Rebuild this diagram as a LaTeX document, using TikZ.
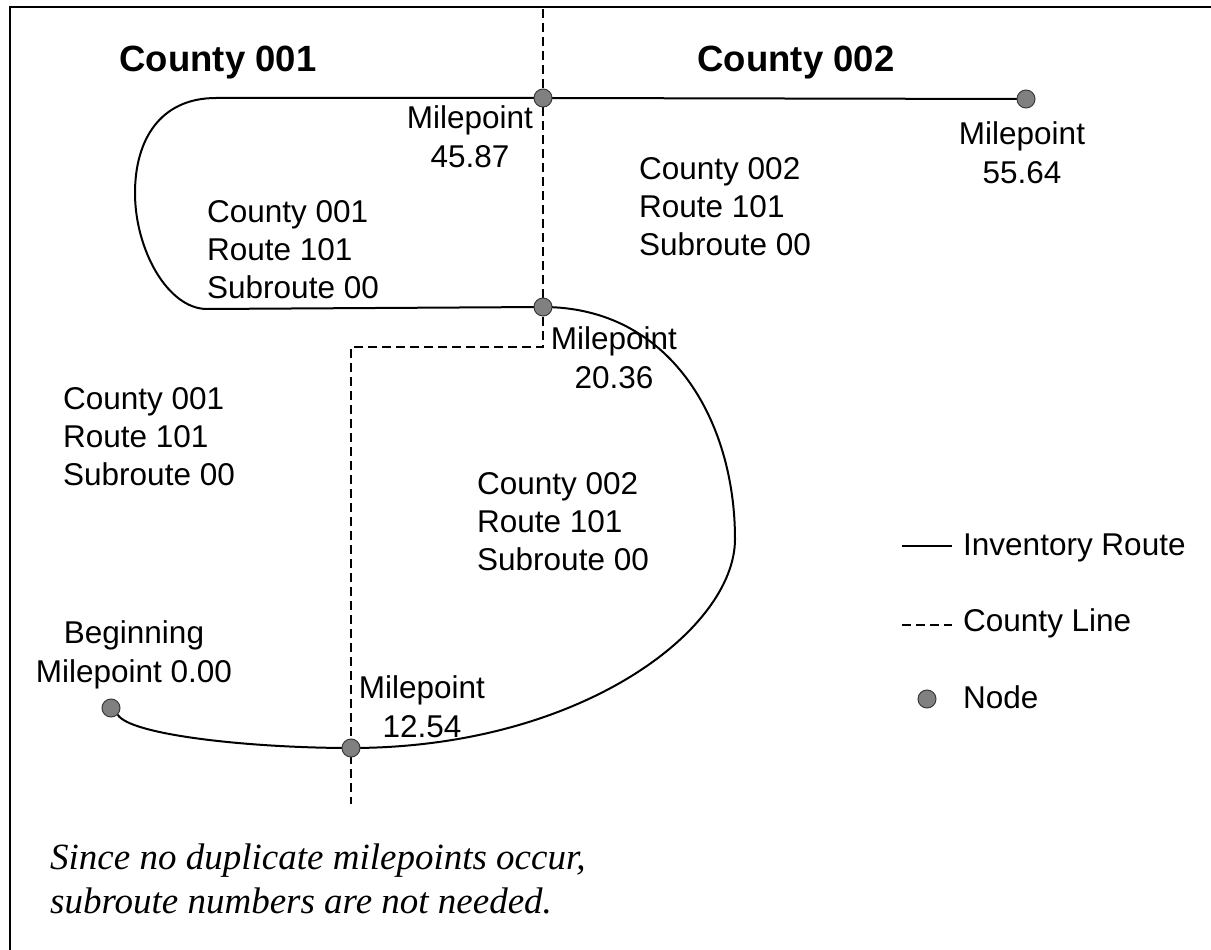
\documentclass[tikz,border=0pt]{standalone}
\usepackage{fontspec}
\setmainfont{Liberation Sans}
\newfontfamily\notefont{Liberation Serif}
\definecolor{nodegray}{HTML}{808080}
\definecolor{nodeedge}{HTML}{3A3A3A}
\pgfdeclarelayer{background}
\pgfsetlayers{background,main}
\tikzset{
  route/.style={line width=2pt, black},
  countyline/.style={line width=1.5pt, dash pattern=on 9pt off 5pt},
  milenode/.style={circle, fill=nodegray, draw=nodeedge, line width=1pt,
                   minimum size=18pt, inner sep=0pt},
  lbl/.style={font=\fontsize{31.5}{37.75}\selectfont, inner sep=0pt},
  blk/.style={lbl, align=left, anchor=base west},
  mp/.style={font=\fontsize{31.5}{38.5}\selectfont, inner sep=0pt, align=center, anchor=base},
  countytitle/.style={font=\fontsize{36.5}{44}\selectfont\bfseries, inner sep=0pt, anchor=base},
  note/.style={font=\fontsize{37}{44}\selectfont\notefont\itshape, inner sep=0pt,
               align=left, anchor=base west}
}
\begin{document}
\begin{tikzpicture}[x=1pt,y=-1pt]
\useasboundingbox (0,0) rectangle (1211,950);

% frame (top and left edges)
\draw[line width=2pt] (10,950) -- (10,7) -- (1211,7);

% county headings
\node[countytitle] (t1) at (218,72) {County 001};
\node[countytitle] (t2) at (796,72) {County 002};

% route nodes
\node[milenode] (n0000) at (111,708) {};
\node[milenode] (n1254) at (351,748) {};
\node[milenode] (n2036) at (543,307) {};
\node[milenode] (n4587) at (543,98) {};
\node[milenode] (n5564) at (1026,99) {};

% county line end points
\coordinate (cltop) at (543,9);
\coordinate (clbot) at (351,804);

\begin{pgfonlayer}{background}
  \draw[countyline] (cltop) -- (543,347) -- (351,347) -- (clbot);
  % inventory route
  \draw[route] (n0000.-45) .. controls (130,735) and (250,748) .. (n1254.center);
  \draw[route] (n1254.center) .. controls (580,748) and (735,630) .. (735,539)
                .. controls (735,420) and (670,307) .. (n2036.center);
  \draw[route] (n2036.center) -- (207,309)
                .. controls (168,309) and (135,250) .. (135,193)
                .. controls (135,140) and (160,98) .. (216,98) -- (n4587.center);
  \draw[route] (n4587.center) -- (n5564.center);
\end{pgfonlayer}

% milepoint labels (anchored at the baseline of the last line)
\node[mp] (m0000) at (134,682) {Beginning\\Milepoint 0.00};
\node[mp] (m1254) at (422,737) {Milepoint\\12.54};
\node[mp] (m2036) at (614,388) {Milepoint\\20.36};
\node[mp] (m4587) at (470,167) {Milepoint\\45.87};
\node[mp] (m5564) at (1022,183) {Milepoint\\55.64};

% segment descriptions
\node[blk] (s1) at (207,298) {County 001\\Route 101\\Subroute 00};
\node[blk] (s2) at (639,255) {County 002\\Route 101\\Subroute 00};
\node[blk] (s3) at (63,485) {County 001\\Route 101\\Subroute 00};
\node[blk] (s4) at (477,570) {County 002\\Route 101\\Subroute 00};

% legend
\coordinate (la1) at (902,546);
\coordinate (lb1) at (952,546);
\draw[line width=1.5pt] (la1) -- (lb1);
\node[lbl, anchor=base west] (lt1) at (963,555) {Inventory Route};
\coordinate (la2) at (902,625);
\coordinate (lb2) at (952,625);
\draw[line width=1.5pt, dash pattern=on 9pt off 5pt] (la2) -- (lb2);
\node[lbl, anchor=base west] (lt2) at (963,631) {County Line};
\node[milenode] (ln) at (927,699) {};
\node[lbl, anchor=base west] (lt3) at (963,708) {Node};

% footnote
\node[note] (fn) at (50,913) {Since no duplicate milepoints occur,\\subroute numbers are not needed.};
\end{tikzpicture}
\end{document}
